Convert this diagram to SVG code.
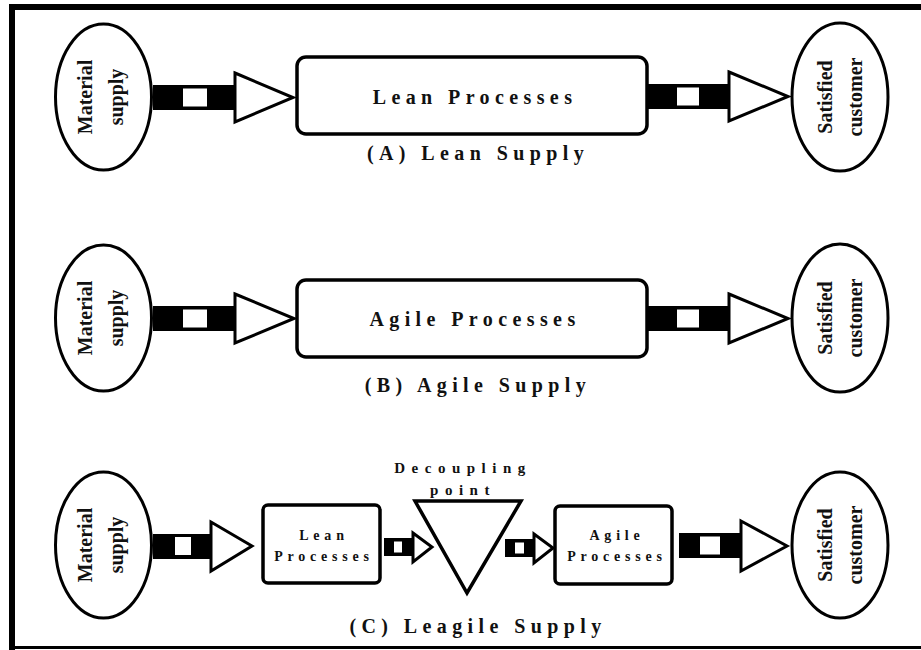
<svg xmlns="http://www.w3.org/2000/svg" width="921" height="650" viewBox="0 0 921 650">
<style>
.bg{fill:#fff}
.frame{fill:#000}
.node{fill:#fff;stroke:#000;stroke-width:3.5}
.ell{fill:#fff;stroke:#000;stroke-width:3}
.bar{fill:#000}
.hole{fill:#fff}
.head{fill:#fff;stroke:#000;stroke-width:3;stroke-linejoin:miter}
.t{font-family:"Liberation Serif","Times New Roman",serif;font-weight:bold;fill:#111}
.big{font-size:20px;letter-spacing:5.4px;text-anchor:middle}
.sm{font-size:14px;letter-spacing:4.8px;text-anchor:middle}
.dp{font-size:15px;letter-spacing:6.5px;text-anchor:middle}
.el{font-size:20px;text-anchor:middle}
</style>
<rect class="bg" x="0" y="0" width="921" height="650"/>
<g id="frame">
<rect class="frame" x="9" y="4" width="912" height="6"/>
<rect class="frame" x="9" y="4" width="6" height="646"/>
<rect class="frame" x="9" y="646" width="912" height="3"/>
</g>

<!-- Row A -->
<g id="a-material">
<ellipse class="ell" cx="103.5" cy="97" rx="48" ry="73"/>
<g transform="rotate(-90 103.5 97)">
<text class="t el" x="103.5" y="85.5">Material</text>
<text class="t el" x="103.5" y="116.5">supply</text>
</g>
</g>
<g id="a-lean">
<rect class="node" x="297" y="57" width="350" height="77" rx="9"/>
<text class="t big" x="475" y="104">Lean Processes</text>
</g>
<g id="a-customer">
<ellipse class="ell" cx="840" cy="97" rx="48" ry="74"/>
<g transform="rotate(-90 840 97)">
<text class="t el" x="840" y="89">Satisfied</text>
<text class="t el" x="840" y="119">customer</text>
</g>
</g>
<text id="a-caption" class="t big" x="478" y="160">(A) Lean Supply</text>

<!-- Row B -->
<g id="b-material">
<ellipse class="ell" cx="103.5" cy="318" rx="48" ry="73"/>
<g transform="rotate(-90 103.5 318)">
<text class="t el" x="103.5" y="306.5">Material</text>
<text class="t el" x="103.5" y="337.5">supply</text>
</g>
</g>
<g id="b-agile">
<rect class="node" x="297" y="280" width="350" height="77" rx="9"/>
<text class="t big" x="475" y="326">Agile Processes</text>
</g>
<g id="b-customer">
<ellipse class="ell" cx="840" cy="318" rx="48" ry="74"/>
<g transform="rotate(-90 840 318)">
<text class="t el" x="840" y="310">Satisfied</text>
<text class="t el" x="840" y="340">customer</text>
</g>
</g>
<text id="b-caption" class="t big" x="478" y="392">(B) Agile Supply</text>

<!-- Row C -->
<g id="c-material">
<ellipse class="ell" cx="103.5" cy="545" rx="48" ry="73"/>
<g transform="rotate(-90 103.5 545)">
<text class="t el" x="103.5" y="533.5">Material</text>
<text class="t el" x="103.5" y="564.5">supply</text>
</g>
</g>
<g id="c-lean">
<rect class="node" x="263" y="505" width="117" height="78" rx="5"/>
<text class="t sm" x="324" y="540">Lean</text>
<text class="t sm" x="324" y="561">Processes</text>
</g>
<g id="c-decoupling">
<polygon class="node" points="415,501 521,501 467,593" stroke-width="4"/>
<text class="t dp" x="463" y="473">Decoupling</text>
<text class="t dp" x="463" y="495">point</text>
</g>
<g id="c-agile">
<rect class="node" x="555" y="506" width="117" height="78" rx="5"/>
<text class="t sm" x="617" y="540">Agile</text>
<text class="t sm" x="617" y="561">Processes</text>
</g>
<g id="c-customer">
<ellipse class="ell" cx="840" cy="545" rx="48" ry="73"/>
<g transform="rotate(-90 840 545)">
<text class="t el" x="840" y="537">Satisfied</text>
<text class="t el" x="840" y="567">customer</text>
</g>
</g>
<text id="c-caption" class="t big" x="478" y="633">(C) Leagile Supply</text>

<g id="connectors">
<!-- A1 -->
<rect class="bar" x="153" y="85" width="82" height="25"/>
<rect class="hole" x="183" y="88.5" width="24" height="18"/>
<polygon class="head" points="235,73 293,97.5 235,122"/>
<!-- A2 -->
<rect class="bar" x="647" y="84" width="82" height="25"/>
<rect class="hole" x="677" y="87.5" width="22" height="18"/>
<polygon class="head" points="729,72 788,96.5 729,121"/>
<!-- B1 -->
<rect class="bar" x="153" y="306" width="82" height="25"/>
<rect class="hole" x="183" y="309.5" width="24" height="18"/>
<polygon class="head" points="235,294 294,318.5 235,343"/>
<!-- B2 -->
<rect class="bar" x="647" y="306" width="82" height="25"/>
<rect class="hole" x="677" y="309.5" width="22" height="18"/>
<polygon class="head" points="729,294 788,318.5 729,343"/>
<!-- C1 -->
<rect class="bar" x="153" y="534" width="58" height="25"/>
<rect class="hole" x="175" y="537" width="16" height="18"/>
<polygon class="head" points="211,522 252,546 211,571"/>
<!-- C2 -->
<rect class="bar" x="384" y="538" width="29" height="18"/>
<rect class="hole" x="394" y="541.5" width="8" height="11"/>
<polygon class="head" points="413,533 432,547 413,562" stroke-width="2.5"/>
<!-- C3 -->
<rect class="bar" x="505" y="539" width="29" height="18"/>
<rect class="hole" x="515" y="542.5" width="9" height="11"/>
<polygon class="head" points="534,534 553,548 534,563" stroke-width="2.5"/>
<!-- C4 -->
<rect class="bar" x="679" y="533" width="62" height="25"/>
<rect class="hole" x="700" y="536.5" width="20" height="18"/>
<polygon class="head" points="741,521 787,546 741,571"/>
</g>
</svg>
